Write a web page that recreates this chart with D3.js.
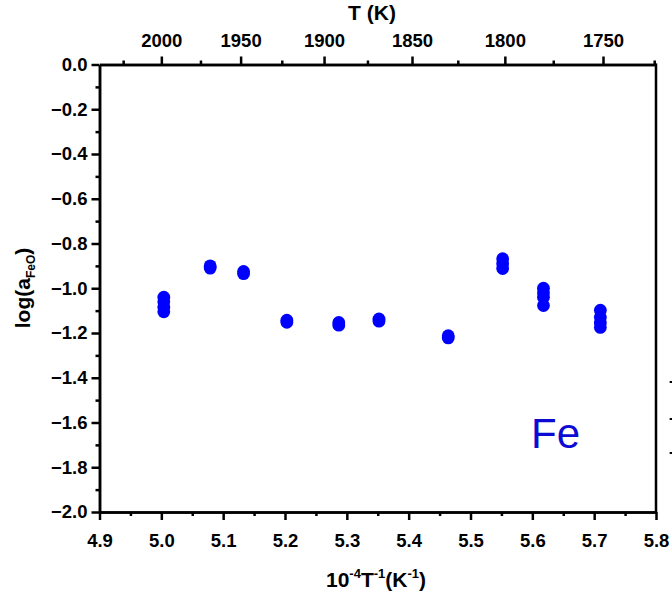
<!DOCTYPE html>
<html>
<head>
<meta charset="utf-8">
<script src="https://cdn.jsdelivr.net/npm/d3@7"></script>
<style>
  body { margin: 0; background: #fff; }
  svg { display: block; }
  .axis text { font-family: Arial, "Liberation Sans", sans-serif; font-weight: bold; font-size: 18.5px; fill: #000; }
  .axis path, .axis line { stroke: #000; stroke-width: 2.5; }
  .title { font-family: Arial, "Liberation Sans", sans-serif; font-weight: bold; font-size: 21px; fill: #000; }
</style>
</head>
<body>
<div id="chart"></div>
<script>
// 10^4/T values (K^-1) of each measured point
var invT = [5.004, 5.004, 5.004, 5.004,
  5.079, 5.079,
  5.133, 5.133,
  5.203, 5.203,
  5.287, 5.287,
  5.352, 5.352,
  5.464, 5.464,
  5.552, 5.552, 5.552,
  5.618, 5.618, 5.618, 5.618,
  5.710, 5.710, 5.710, 5.710];
// log(a_FeO) for each point
var logA = [-1.04, -1.06, -1.085, -1.105,
  -0.90, -0.91,
  -0.925, -0.935,
  -1.143, -1.152,
  -1.153, -1.165,
  -1.137, -1.147,
  -1.212, -1.222,
  -0.868, -0.89, -0.912,
  -1.0, -1.02, -1.04, -1.077,
  -1.098, -1.13, -1.155, -1.175];

var xTicks = [4.9, 5.0, 5.1, 5.2, 5.3, 5.4, 5.5, 5.6, 5.7, 5.8];
var xMinor = [4.95, 5.05, 5.15, 5.25, 5.35, 5.45, 5.55, 5.65, 5.75];
var yTicks = [0, -0.2, -0.4, -0.6, -0.8, -1.0, -1.2, -1.4, -1.6, -1.8, -2.0];
var yMinor = [-0.1, -0.3, -0.5, -0.7, -0.9, -1.1, -1.3, -1.5, -1.7, -1.9];
var tTicks = [2000, 1950, 1900, 1850, 1800, 1750];
var tMinor = [2025, 1975, 1925, 1875, 1825, 1775, 1725];

var width = 672, height = 595;
var padL = 99.5, padR = 656, padT = 64.5, padB = 512;

var svg = d3.select('#chart').append('svg')
  .attr('width', width)
  .attr('height', height);

var x = d3.scaleLinear().domain([4.9, 5.8]).range([padL, padR]);
var y = d3.scaleLinear().domain([-2, 0]).range([padB, padT]);

// minor ticks first, majors on top
svg.append('g').attr('class', 'axis')
  .attr('transform', 'translate(0,' + padB + ')')
  .call(d3.axisBottom(x).tickValues(xMinor).tickSize(4).tickSizeOuter(0).tickFormat(''));
svg.append('g').attr('class', 'axis')
  .attr('transform', 'translate(0,' + padB + ')')
  .call(d3.axisBottom(x).tickValues(xTicks).tickSize(8).tickSizeOuter(0).tickPadding(14)
    .tickFormat(d3.format('.1f')));

svg.append('g').attr('class', 'axis')
  .attr('transform', 'translate(' + padL + ',0)')
  .call(d3.axisLeft(y).tickValues(yMinor).tickSize(4).tickSizeOuter(0).tickFormat(''));
svg.append('g').attr('class', 'axis')
  .attr('transform', 'translate(' + padL + ',0)')
  .call(d3.axisLeft(y).tickValues(yTicks).tickSize(8).tickSizeOuter(0).tickPadding(4)
    .tickFormat(d3.format('.1f')));

// top axis: temperature, placed at 10^4/T
svg.append('g').attr('class', 'axis')
  .attr('transform', 'translate(0,' + padT + ')')
  .call(d3.axisTop(x).tickValues(tMinor.map(function (t) { return 1e4 / t; }))
    .tickSize(4).tickSizeOuter(0).tickFormat(''));
svg.append('g').attr('class', 'axis')
  .attr('transform', 'translate(0,' + padT + ')')
  .call(d3.axisTop(x).tickValues(tTicks.map(function (t) { return 1e4 / t; }))
    .tickSize(8).tickSizeOuter(0).tickPadding(10)
    .tickFormat(function (v) { return Math.round(1e4 / v); }));

// right frame
svg.append('line')
  .attr('x1', padR).attr('x2', padR)
  .attr('y1', padT - 1).attr('y2', padB + 1)
  .attr('stroke', '#000').attr('stroke-width', 2.5);

// points
svg.append('g').selectAll('circle')
  .data(invT)
  .enter()
  .append('circle')
  .attr('cx', function (d) { return x(d); })
  .attr('cy', function (d, i) { return y(logA[i]); })
  .attr('r', 6.4)
  .attr('fill', '#0000ff');

// label
svg.append('text')
  .attr('x', 531).attr('y', 448)
  .attr('font-family', 'Arial, "Liberation Sans", sans-serif')
  .attr('font-size', 42)
  .attr('fill', '#0b0bd4')
  .text('Fe');

// axis titles
svg.append('text').attr('class', 'title')
  .attr('x', 372).attr('y', 20)
  .attr('text-anchor', 'middle')
  .text('T (K)');

var xt = svg.append('text').attr('class', 'title')
  .attr('font-size', 22)
  .attr('x', 376).attr('y', 587)
  .attr('text-anchor', 'middle');
xt.append('tspan').text('10');
xt.append('tspan').attr('dy', -9).attr('font-size', 13).text('-4');
xt.append('tspan').attr('dy', 9).text('T');
xt.append('tspan').attr('dy', -9).attr('font-size', 13).text('-1');
xt.append('tspan').attr('dy', 9).text('(K');
xt.append('tspan').attr('dy', -9).attr('font-size', 13).text('-1');
xt.append('tspan').attr('dy', 9).text(')');

var yt = svg.append('text').attr('class', 'title')
  .attr('font-size', 22)
  .attr('transform', 'translate(30,' + 288 + ') rotate(-90)')
  .attr('text-anchor', 'middle');
yt.append('tspan').text('log(a');
yt.append('tspan').attr('dy', 5).attr('font-size', 12).text('FeO');
yt.append('tspan').attr('dy', -5).text(')');

// clipped remnants at the right edge
svg.append('g').selectAll('text')
  .data([386, 423, 457])
  .enter()
  .append('text')
  .attr('x', 669).attr('y', function (d) { return d; })
  .attr('font-family', 'Arial, "Liberation Sans", sans-serif')
  .attr('font-weight', 'bold')
  .attr('font-size', 16)
  .text('-');
</script>
</body>
</html>
